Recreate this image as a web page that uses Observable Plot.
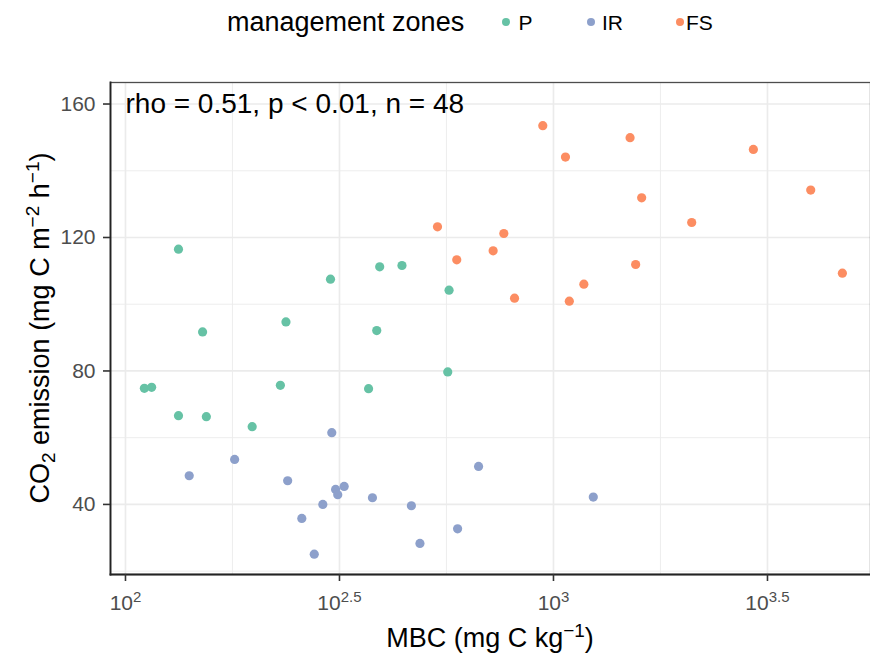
<!DOCTYPE html>
<html><head><meta charset="utf-8">
<script src="https://cdn.jsdelivr.net/npm/d3@7"></script>
<script src="https://cdn.jsdelivr.net/npm/@observablehq/plot@0.6"></script>
<style>
body{margin:0;background:#fff;font-family:"Liberation Sans",Arial,sans-serif;}
#legend{position:relative;width:870px;height:50px;}
#legend span{position:absolute;white-space:nowrap;line-height:1;color:#000;}
#legend .dot{position:absolute;width:8px;height:8px;border-radius:50%;top:18px;}
#chart svg{display:block;}
</style></head><body>
<div id="legend"></div>
<div id="chart"></div>
<script>
// ---- data ----
const zones = ["P", "IR", "FS"];
const zoneColors = ["#66C2A5", "#8DA0CB", "#FC8D62"];
const legendTitle = "management zones";

// MBC (mg C kg-1) and CO2 emission (mg C m-2 h-1) per zone
const mbcP  = [133.0, 301.3, 392.6, 442.6, 570.2, 237.1, 151.4, 386.4, 110.7, 115.1, 230.1, 369.8, 566.2, 133.0, 154.5, 197.7];
const co2P  = [116.5, 107.5, 111.2, 111.6, 104.2, 94.7, 91.7, 92.1, 74.8, 75.1, 75.7, 74.7, 79.7, 66.6, 66.3, 63.3];
const mbcIR = [303.4, 179.9, 140.9, 239.3, 309.7, 324.3, 313.3, 377.6, 289.1, 465.6, 258.2, 597.0, 487.5, 276.1, 668.3, 1238.8];
const co2IR = [61.5, 53.5, 48.6, 47.1, 44.5, 45.4, 42.9, 42.0, 40.0, 39.6, 35.8, 32.7, 28.3, 25.1, 51.4, 42.2];
const mbcFS = [535.8, 594.3, 722.8, 765.6, 811.0, 944.1, 1066.6, 1088.9, 1177.5, 1510.0, 1556.0, 1607.0, 2103.7, 2930.9, 3990.5, 4731.5];
const co2FS = [123.2, 113.3, 116.0, 121.2, 101.8, 153.5, 144.1, 100.9, 106.0, 149.9, 111.9, 131.9, 124.5, 146.4, 134.2, 109.3];

const xTicks = [10 ** 2, 10 ** 2.5, 10 ** 3, 10 ** 3.5];
const xTickExp = ["2", "2.5", "3", "3.5"];
const xMinor = [10 ** 2.25, 10 ** 2.75, 10 ** 3.25];
const yTicks = [40, 80, 120, 160];
const yMinor = [20, 60, 100, 140];

const annotation = [{x: 100, y: 160, label: "rho = 0.51, p < 0.01, n = 48"}];

// ---- build table ----
const mbcAll = [mbcP, mbcIR, mbcFS];
const co2All = [co2P, co2IR, co2FS];
const data = [];
zones.forEach((z, i) => mbcAll[i].forEach((m, j) => data.push({zone: z, mbc: m, co2: co2All[i][j]})));

// ---- legend (HTML above the SVG) ----
const legend = document.getElementById("legend");
function addSpan(text, left, top, size) {
  const s = document.createElement("span");
  s.textContent = text; s.style.left = left + "px"; s.style.top = top + "px"; s.style.fontSize = size + "px";
  legend.appendChild(s);
}
addSpan(legendTitle, 227, 8.8, 27);
const dotX = [505.5, 591, 679.5], labX = [518.5, 602, 686];
zones.forEach((z, i) => {
  const d = document.createElement("div");
  d.className = "dot"; d.style.left = (dotX[i] - 4) + "px"; d.style.background = zoneColors[i];
  legend.appendChild(d);
  addSpan(z, labX[i], 11.7, 21);
});

// ---- plot ----
const svg = Plot.plot({
  width: 870, height: 611,
  marginLeft: 110, marginRight: 0, marginTop: 32, marginBottom: 87,
  style: {fontFamily: "Liberation Sans, Arial, sans-serif", background: "#fff", overflow: "visible"},
  x: {type: "log", domain: [10 ** 1.965, 10 ** 3.7407]},
  y: {domain: [19, 166.45]},
  color: {domain: zones, range: zoneColors},
  marks: [
    Plot.gridX({ticks: xMinor, stroke: "#ebebeb", strokeOpacity: 1, strokeWidth: 0.9}),
    Plot.gridY({ticks: yMinor, stroke: "#ebebeb", strokeOpacity: 1, strokeWidth: 0.9}),
    Plot.gridX({ticks: xTicks, stroke: "#ebebeb", strokeOpacity: 1, strokeWidth: 1.7}),
    Plot.gridY({ticks: yTicks, stroke: "#ebebeb", strokeOpacity: 1, strokeWidth: 1.7}),
    Plot.frame({stroke: "#4d4d4d", strokeWidth: 1.3}),
    Plot.frame({anchor: "left", stroke: "#222", strokeWidth: 1.8}),
    Plot.frame({anchor: "bottom", stroke: "#222", strokeWidth: 1.8}),
    Plot.axisX({ticks: xTicks, tickSize: 7, tickPadding: 14, fontSize: 21, tickFormat: (d, i) => "10^" + xTickExp[i], color: "#333", strokeWidth: 1.6, label: null}),
    Plot.axisY({ticks: yTicks, tickSize: 7, tickPadding: 8, fontSize: 21, color: "#333", strokeWidth: 1.6, label: null}),
    Plot.dot(data, {x: "mbc", y: "co2", fill: "zone", r: 4.6}),
    Plot.text(annotation, {x: "x", y: "y", text: "label", textAnchor: "start", fontSize: 28, fill: "#000"})
  ]
});
document.getElementById("chart").appendChild(svg);

const s = d3.select(svg);
s.selectAll('g[aria-label="x-axis tick label"] text, g[aria-label="y-axis tick label"] text').style("fill", "#4d4d4d");
s.selectAll('g[aria-label="x-axis tick label"] text').each(function (d, i) {
  const t = d3.select(this);
  t.text(null);
  t.append("tspan").text("10");
  t.append("tspan").style("font-size", "15px").attr("dy", -8).text(xTickExp[i]);
});

// axis titles with sub/superscripts
const yt = s.append("text").attr("transform", "translate(49,278) rotate(-90)")
  .attr("text-anchor", "middle").style("font-size", "27px").attr("fill", "#000");
yt.append("tspan").text("CO");
yt.append("tspan").style("font-size", "19px").attr("dy", 6).text("2");
yt.append("tspan").attr("dy", -6).text(" emission (mg C m");
yt.append("tspan").style("font-size", "19px").attr("dy", -10).text("\u22122");
yt.append("tspan").attr("dy", 10).text(" h");
yt.append("tspan").style("font-size", "19px").attr("dy", -10).text("\u22121");
yt.append("tspan").attr("dy", 10).text(")");

const xt = s.append("text").attr("transform", "translate(490,597)")
  .attr("text-anchor", "middle").style("font-size", "27px").attr("fill", "#000");
xt.append("tspan").text("MBC (mg C kg");
xt.append("tspan").style("font-size", "19px").attr("dy", -10).text("\u22121");
xt.append("tspan").attr("dy", 10).text(")");
</script>
</body></html>
